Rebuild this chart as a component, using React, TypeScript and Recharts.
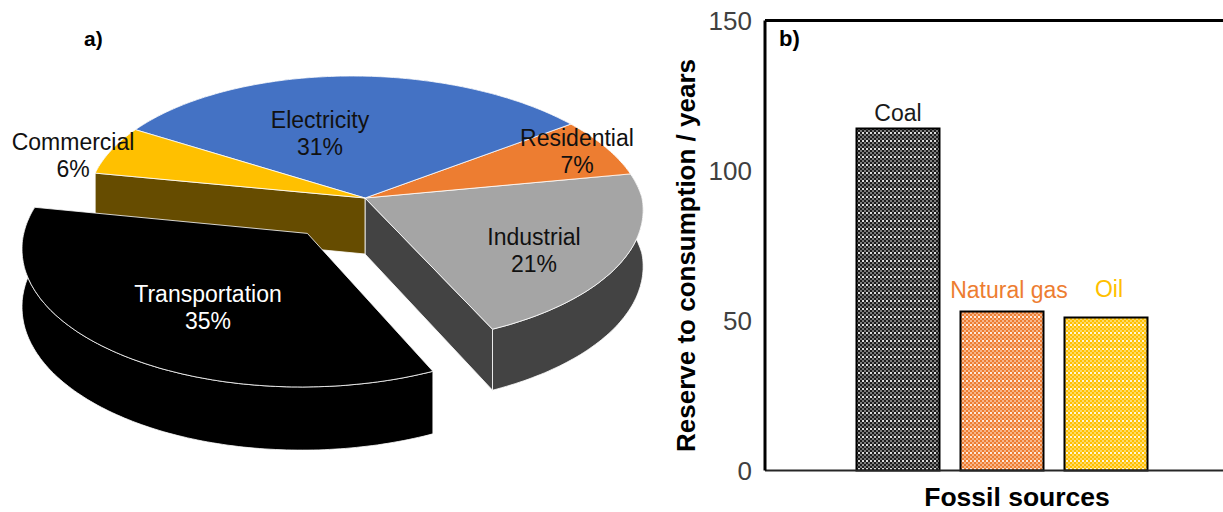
import React from "react";
import {
  BarChart,
  Bar,
  Cell,
  Label,
  LabelList,
  Pie,
  PieChart,
  ReferenceLine,
  XAxis,
  YAxis,
} from "recharts";

const sectors = ["Industrial", "Residential", "Electricity", "Commercial", "Transportation"];
const shares = [21, 7, 31, 6, 35];
const topColors = ["#A5A5A5", "#ED7D31", "#4472C4", "#FFC000", "#000000"];
const wallColors = ["#434343", "#8E4B1D", "#294476", "#664C00", "#000000"];
const explodes = [0, 0, 0, 0, 0.33];
const pieLabelColors = ["#111111", "#111111", "#111111", "#111111", "#ffffff"];

const sources = ["Coal", "Natural gas", "Oil"];
const reserves = [114, 53, 51];
const barPatterns = ["coalDots", "gasDots", "oilDots"];
const sourceLabelColors = ["#1a1a1a", "#ED7D31", "#FFC000"];
const yTicks = [0, 50, 100, 150];

const pieData = sectors.map((name, i) => ({ name, value: shares[i] }));
const barData = sources.map((name, i) => ({ name, value: reserves[i] }));

// tilted-disc projection for the 3D pie
const TILT = 0.48;
const PERSPECTIVE = 0.09;
const DEPTH = 56;
const BACK_SKEW = 13; // the far half of the disc leans left a little
const START_ANGLE = -65;
const RAD = Math.PI / 180;

// label centres, px from the pie centre
const pieLabelPos = [
  [169, 60],
  [212, -39],
  [-45, -57],
  [-292, -35],
  [-157, 117],
];
// nudges for the bar captions: [dx, dy]
const sourceLabelShift = [
  [0, -8],
  [7, -14],
  [3, -21],
];

function project(s: any, angle: number, ratio: number, down = false) {
  const mid = ((s.startAngle + s.endAngle) / 2) * RAD;
  const e = explodes[s.index];
  const X = ratio * Math.cos(angle * RAD) + e * Math.cos(mid);
  const Y = ratio * Math.sin(angle * RAD) + e * Math.sin(mid);
  const w = 1 + PERSPECTIVE * Y;
  return [
    s.cx + (s.outerRadius * X) / w - BACK_SKEW * Math.max(Y, 0),
    s.cy - (s.outerRadius * TILT * Y) / w + (down ? DEPTH / w : 0),
  ];
}

function arcPoints(s: any, down = false) {
  const pts = [];
  const steps = Math.ceil(s.endAngle - s.startAngle);
  for (let i = 0; i <= steps; i++) {
    const a = s.startAngle + ((s.endAngle - s.startAngle) * i) / steps;
    pts.push(project(s, a, 1, down));
  }
  return pts;
}

const toPath = (pts: number[][]) =>
  "M" + pts.map((p) => p[0].toFixed(1) + "," + p[1].toFixed(1)).join("L") + "Z";

function WallSector(props: any) {
  const s = { ...props };
  const n = shares.length;
  const color = wallColors[s.index];
  const paths = [];
  const top = arcPoints(s);
  const bottom = arcPoints(s, true).reverse();
  paths.push(toPath([...top, ...bottom]));
  // cut faces only show next to the pulled-out slice
  if (explodes[(s.index + n - 1) % n] > 0) {
    paths.push(
      toPath([
        project(s, s.startAngle, 0),
        project(s, s.startAngle, 1),
        project(s, s.startAngle, 1, true),
        project(s, s.startAngle, 0, true),
      ])
    );
  }
  if (explodes[(s.index + 1) % n] > 0) {
    paths.push(
      toPath([
        project(s, s.endAngle, 0),
        project(s, s.endAngle, 1),
        project(s, s.endAngle, 1, true),
        project(s, s.endAngle, 0, true),
      ])
    );
  }
  return (
    <g>
      {paths.map((d, i) => (
        <path key={i} d={d} fill={color} stroke="#ffffff" strokeWidth={0.8} strokeLinejoin="round" />
      ))}
    </g>
  );
}

function TopSector(props: any) {
  const s = { ...props };
  const d = toPath([project(s, s.startAngle, 0), ...arcPoints(s)]);
  return <path d={d} fill={topColors[s.index]} stroke="#ffffff" strokeWidth={0.8} strokeLinejoin="round" />;
}

function pieLabel(props: any) {
  const { cx, cy, index, name, value } = props;
  const x = cx + pieLabelPos[index][0];
  const y = cy + pieLabelPos[index][1];
  return (
    <text x={x} y={y} textAnchor="middle" fontSize={23} fill={pieLabelColors[index]}>
      <tspan x={x} dy={-13}>{name}</tspan>
      <tspan x={x} dy={26.5}>{value}%</tspan>
    </text>
  );
}

function sourceLabel(props: any) {
  const { x, y, width, index, value } = props;
  return (
    <text
      x={x + width / 2 + sourceLabelShift[index][0]}
      y={y + sourceLabelShift[index][1]}
      textAnchor="middle"
      fontSize={23}
      fill={sourceLabelColors[index]}
    >
      {value}
    </text>
  );
}

// coarse halftone fill: 2px checks, every other row brighter
function DotPattern({ id, color, light, bright }: { id: string; color: string; light: string; bright: string }) {
  return (
    <pattern id={id} width={4} height={8} patternUnits="userSpaceOnUse">
      <rect width={4} height={8} fill={color} />
      <rect x={2} y={0} width={2} height={2} fill={light} />
      <rect x={0} y={2} width={2} height={2} fill={light} />
      <rect x={2} y={4} width={2} height={2} fill={bright} />
      <rect x={0} y={6} width={2} height={2} fill={light} />
    </pattern>
  );
}

export default function App() {
  return (
    <div
      style={{
        position: "absolute",
        left: 0,
        top: 0,
        width: 1223,
        height: 512,
        background: "#fff",
        fontFamily: "'Liberation Sans', Arial, sans-serif",
      }}
    >
      <div style={{ position: "absolute", left: 0, top: 0 }}>
        <PieChart width={660} height={512} margin={{ top: 0, right: 0, bottom: 0, left: 0 }}>
          <Pie
            data={pieData}
            dataKey="value"
            nameKey="name"
            cx={365}
            cy={198}
            outerRadius={277}
            startAngle={START_ANGLE}
            endAngle={START_ANGLE + 360}
            shape={WallSector}
            isAnimationActive={false}
          />
          <Pie
            data={pieData}
            dataKey="value"
            nameKey="name"
            cx={365}
            cy={198}
            outerRadius={277}
            startAngle={START_ANGLE}
            endAngle={START_ANGLE + 360}
            shape={TopSector}
            label={pieLabel}
            labelLine={false}
            isAnimationActive={false}
          />
          <text x={84} y={46} fontSize={21} fontWeight="bold" fill="#000">
            a)
          </text>
        </PieChart>
      </div>
      <div style={{ position: "absolute", left: 660, top: 0 }}>
        <BarChart
          width={563}
          height={512}
          data={barData}
          margin={{ top: 20.5, right: 0, bottom: 0, left: 0 }}
        >
          <defs>
            <DotPattern id="coalDots" color="#1c1c1c" light="#7c7c7c" bright="#dcdcdc" />
            <DotPattern id="gasDots" color="#ED7D31" light="#F7B58A" bright="#FFE9DC" />
            <DotPattern id="oilDots" color="#FFC000" light="#FFDA66" bright="#FFF6D8" />
          </defs>
          <XAxis
            dataKey="name"
            height={41.5}
            tick={false}
            tickLine={false}
            axisLine={{ stroke: "#262626", strokeWidth: 2 }}
            padding={{ left: 80.5, right: 65.5 }}
          >
            <Label
              value="Fossil sources"
              position="insideBottom"
              offset={6}
              dx={23}
              style={{ fontSize: 26.5, fontWeight: "bold", fill: "#000" }}
            />
          </XAxis>
          <YAxis
            width={105}
            domain={[0, 150]}
            ticks={yTicks}
            tickLine={false}
            tickMargin={7}
            interval={0}
            axisLine={{ stroke: "#000", strokeWidth: 3 }}
            tick={{ fontSize: 26, fill: "#404040" }}
          >
            <Label
              value="Reserve to consumption / years"
              angle={-90}
              position="insideLeft"
              offset={26}
              dy={10}
              style={{ fontSize: 26, fontWeight: "bold", fill: "#000", textAnchor: "middle" }}
            />
          </YAxis>
          <ReferenceLine y={150} stroke="#000" strokeWidth={3} />
          <Bar dataKey="value" barSize={83} stroke="#000" strokeWidth={2} isAnimationActive={false}>
            {barData.map((d, i) => (
              <Cell key={d.name} fill={`url(#${barPatterns[i]})`} />
            ))}
            <LabelList dataKey="name" content={sourceLabel} />
          </Bar>
          <text x={119} y={46} fontSize={22} fontWeight="bold" fill="#000">
            b)
          </text>
        </BarChart>
      </div>
    </div>
  );
}
